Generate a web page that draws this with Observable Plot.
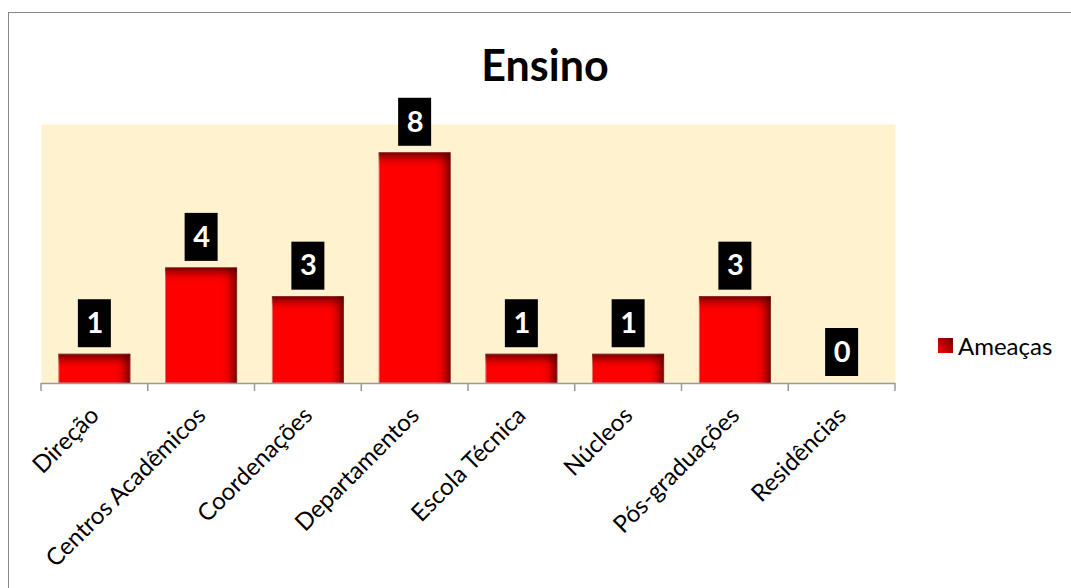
<!DOCTYPE html>
<html>
<head>
<meta charset="utf-8">
<script src="https://cdn.jsdelivr.net/npm/d3@7"></script>
<script src="https://cdn.jsdelivr.net/npm/@observablehq/plot@0.6"></script>
<style>
  html, body { margin: 0; padding: 0; background: #fff; }
  #wrap { position: relative; width: 1071px; height: 588px; overflow: hidden; font-family: Lato, "Open Sans", sans-serif; }
  #border { position: absolute; left: 8px; top: 12px; width: 1100px; height: 700px; border-left: 1.5px solid #878787; border-top: 1.5px solid #878787; box-sizing: border-box; }
  #title { position: absolute; left: 0; width: 1090px; top: 39px; text-align: center; font-weight: 700; font-size: 43px; color: #000; line-height: 1.2; }
  #legend { position: absolute; left: 938px; top: 330px; height: 30px; display: flex; align-items: center; font-size: 24px; color: #000; }
  #legend .sw { width: 15px; height: 15px; margin-right: 5px; background: linear-gradient(225deg, #6a0000 0%, #b00000 45%, #ff0000 100%); }
  #chart { position: absolute; left: 0; top: 0; }
</style>
</head>
<body>
<div id="wrap">
  <div id="border"></div>
  <div id="chart"></div>
  <div id="title">Ensino</div>
  <div id="legend"><div class="sw"></div><span>Ameaças</span></div>
</div>
<script>
const categories = ["Direção", "Centros Acadêmicos", "Coordenações", "Departamentos", "Escola Técnica", "Núcleos", "Pós-graduações", "Residências"];
const ameacas = [1, 4, 3, 8, 1, 1, 3, 0];
const seriesName = "Ameaças";

const data = categories.map((c, i) => ({category: c, value: ameacas[i]}));

const plot = Plot.plot({
  width: 1071,
  height: 588,
  marginLeft: 41,
  marginRight: 176,
  marginTop: 124,
  marginBottom: 205,
  style: {background: "transparent", fontFamily: "Lato, 'Open Sans', sans-serif"},
  x: {domain: categories, paddingInner: 0.335, paddingOuter: 0.1675, align: 0.5, round: false, label: null},
  y: {domain: [0, 9], axis: null},
  marks: [
    Plot.frame({fill: "#fff2cf", stroke: null}),
    Plot.barY(data, {x: "category", y: "value", fill: "#ff0000", stroke: "#f07070", strokeWidth: 1, filter: d => d.value > 0, className: "bars"}),
    Plot.ruleY([0], {stroke: "#9a9a9a", strokeWidth: 1.5}),
    Plot.barY(data, {x: "category", y1: "value", y2: "value", insetTop: -55, insetBottom: 7, insetLeft: 19, insetRight: 19, fill: "#000"}),
    Plot.text(data, {x: "category", y: "value", text: d => String(d.value), dy: -31, fill: "#fff", fontSize: 29, fontWeight: 700, lineAnchor: "middle"}),
    Plot.axisX({tickRotate: -45, tickSize: 0, tickPadding: 28, fontSize: 24, fill: "#000", label: null})
  ]
});

document.getElementById("chart").appendChild(plot);
const svg = d3.select(plot);
const xs = plot.scale("x");
const bw = xs.step;
const base = plot.scale("y").apply(0);
const x0 = xs.range[0];
const bounds = d3.range(categories.length + 1).map(i => x0 + i * bw);
svg.append("g").selectAll("line").data(bounds).join("line")
  .attr("x1", d => d).attr("x2", d => d).attr("y1", base).attr("y2", base + 8)
  .attr("stroke", "#9a9a9a").attr("stroke-width", 1.5);

// inner shadow filter for bars
const defs = svg.insert("defs", ":first-child");
const f = defs.append("filter").attr("id", "inner").attr("filterUnits", "userSpaceOnUse")
  .attr("x", -100).attr("y", -100).attr("width", 1400).attr("height", 900);
f.append("feFlood").attr("flood-color", "#5a0000").attr("result", "flood");
f.append("feComposite").attr("in", "flood").attr("in2", "SourceAlpha").attr("operator", "out").attr("result", "outside");
f.append("feGaussianBlur").attr("in", "outside").attr("stdDeviation", 5).attr("result", "blur");
f.append("feOffset").attr("in", "blur").attr("dx", -6).attr("dy", 6).attr("result", "off");
f.append("feComposite").attr("in", "off").attr("in2", "SourceAlpha").attr("operator", "in").attr("result", "shadow");
const m = f.append("feMerge");
m.append("feMergeNode").attr("in", "SourceGraphic");
m.append("feMergeNode").attr("in", "shadow");
svg.selectAll(".bars rect").attr("filter", "url(#inner)");
</script>
</body>
</html>
